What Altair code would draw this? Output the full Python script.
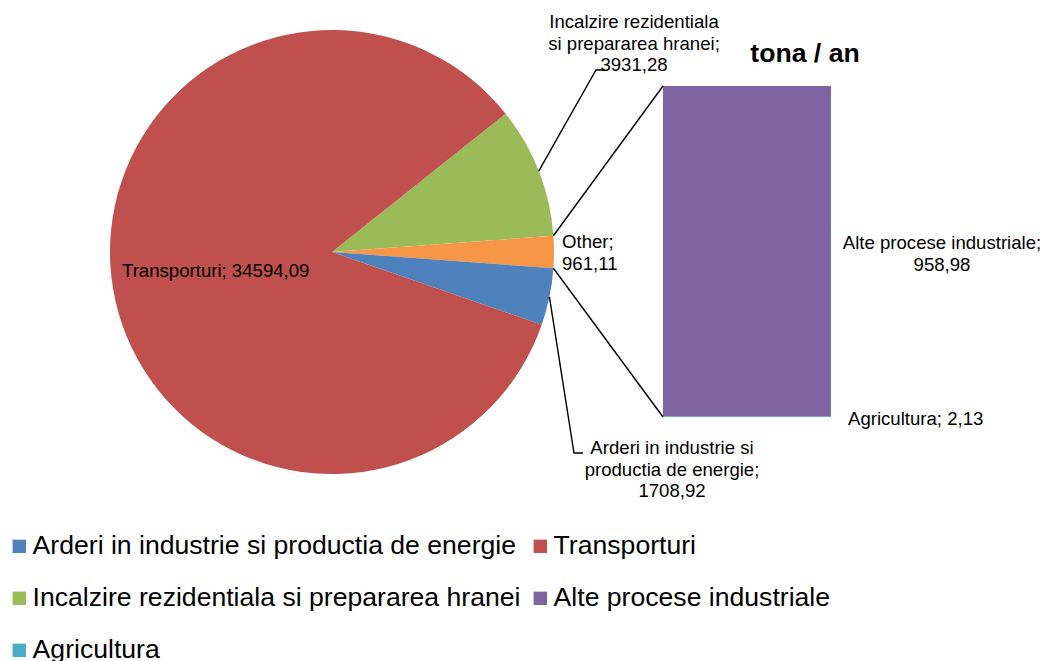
import math
import altair as alt
import pandas as pd

# ---------------- data ----------------
pie_categories = [
    "Incalzire rezidentiala si prepararea hranei",
    "Other",
    "Arderi in industrie si productia de energie",
    "Transporturi",
]
pie_values = [3931.28, 961.11, 1708.92, 34594.09]

bar_categories = ["Agricultura", "Alte procese industriale"]
bar_values = [2.13, 958.98]

legend_order = [
    "Arderi in industrie si productia de energie",
    "Transporturi",
    "Incalzire rezidentiala si prepararea hranei",
    "Alte procese industriale",
    "Agricultura",
]
color_domain = legend_order + ["Other"]
color_range = ["#4F81BD", "#C0504D", "#9BBB59", "#8064A2", "#4BACC6", "#F79646"]

title_text = "tona / an"

# ---------------- layout (chart pixel coords) ----------------
W, H = 1032, 653
CX, CY, R = 324, 244, 222
BAR_X0, BAR_X1, BAR_TOP, BAR_BOT = 655, 823, 78, 409
FONT = "Liberation Sans"
LABEL_SIZE = 18.6


def fmt(v):
    return f"{v:.2f}".replace(".", ",")


total = sum(pie_values)
other_idx = pie_categories.index("Other")
before_other = sum(pie_values[:other_idx])
start = math.pi / 2 - (before_other + pie_values[other_idx] / 2) / total * 2 * math.pi


def angle_at(cum):
    return start + cum / total * 2 * math.pi


def pie_point(theta, r=R):
    return CX + r * math.sin(theta), CY - r * math.cos(theta)


cums = [sum(pie_values[:i]) for i in range(len(pie_values))]
mid = {c: angle_at(cums[i] + pie_values[i] / 2) for i, c in enumerate(pie_categories)}

pie_df = pd.DataFrame({
    "category": pie_categories,
    "value": pie_values,
    "ord": list(range(len(pie_categories))),
})
bar_cum = [sum(bar_values[:i]) for i in range(len(bar_values))]
bar_df = pd.DataFrame({
    "category": bar_categories,
    "value": bar_values,
    "y0": bar_cum,
    "y1": [c + v for c, v in zip(bar_cum, bar_values)],
})

# leader / connector lines
other_top = pie_point(angle_at(cums[other_idx]))
other_bot = pie_point(angle_at(cums[other_idx] + pie_values[other_idx]))
g_start = pie_point(mid["Incalzire rezidentiala si prepararea hranei"])
a_start = pie_point(mid["Arderi in industrie si productia de energie"])
lines = [
    ("green", [g_start, (588, 62), (597, 62)]),
    ("blue", [a_start, (566, 445), (575, 445)]),
    ("top", [other_top, (BAR_X0, BAR_TOP)]),
    ("bot", [other_bot, (BAR_X0, BAR_BOT)]),
]
rows = []
for lid, pts in lines:
    for s, (x, y) in enumerate(pts):
        rows.append({"id": lid, "seq": s, "x": x, "y": y})
lines_df = pd.DataFrame(rows)

# labels
left_labels = pd.DataFrame([
    {"text": f"Transporturi; {fmt(pie_values[3])}", "x": 114, "y": 269},
    {"text": f"Other;\n{fmt(pie_values[1])}", "x": 554, "y": 240},
    {"text": f"Agricultura; {fmt(bar_values[0])}", "x": 840, "y": 417},
])
center_labels = pd.DataFrame([
    {"text": f"Incalzire rezidentiala\nsi prepararea hranei;\n{fmt(pie_values[0])}", "x": 626, "y": 20},
    {"text": f"Arderi in industrie si\nproductia de energie;\n{fmt(pie_values[2])}", "x": 664, "y": 446},
    {"text": f"Alte procese industriale;\n{fmt(bar_values[1])}", "x": 934, "y": 241},
])
title_df = pd.DataFrame([{"text": title_text, "x": 797, "y": 54}])

# legend entries fill column-major: arrange so rows read as in legend_order
legend_values = [legend_order[i] for i in (0, 2, 4, 1, 3)]

color_scale = alt.Scale(domain=color_domain, range=color_range)
legend = alt.Legend(
    title=None, orient="none", legendX=-2, legendY=525, columns=2,
    symbolType="square", symbolSize=180, symbolStrokeWidth=0,
    labelFont=FONT, labelFontSize=26.6, labelColor="black", labelLimit=1000,
    labelOffset=0, columnPadding=6, rowPadding=25, padding=0,
    values=legend_values,
)

pie = alt.Chart(pie_df).mark_arc(radius=R).encode(
    theta=alt.Theta("value:Q", stack=True,
                    scale=alt.Scale(range=[start, start + 2 * math.pi])),
    color=alt.Color("category:N", scale=color_scale, legend=legend),
    order=alt.Order("ord:Q"),
    x=alt.value(CX),
    y=alt.value(CY),
)

bar = alt.Chart(bar_df).mark_rect().encode(
    x=alt.value(BAR_X0),
    x2=alt.value(BAR_X1),
    y=alt.Y("y0:Q", axis=None,
            scale=alt.Scale(domain=[0, sum(bar_values)], range=[BAR_BOT, BAR_TOP], nice=False, zero=True)),
    y2="y1:Q",
    color=alt.Color("category:N", scale=color_scale, legend=legend),
)

line_layer = alt.Chart(lines_df).mark_line(color="black", strokeWidth=1.4).encode(
    x=alt.X("x:Q", scale=None, axis=None),
    y=alt.Y("y:Q", scale=None, axis=None),
    detail="id:N",
    order="seq:Q",
)

left_text = alt.Chart(left_labels).mark_text(
    align="left", baseline="alphabetic", lineBreak="\n", lineHeight=21.5,
    font=FONT, fontSize=LABEL_SIZE, color="black",
).encode(x=alt.X("x:Q", scale=None), y=alt.Y("y:Q", scale=None), text="text:N")

center_text = alt.Chart(center_labels).mark_text(
    align="center", baseline="alphabetic", lineBreak="\n", lineHeight=21.5,
    font=FONT, fontSize=LABEL_SIZE, color="black",
).encode(x=alt.X("x:Q", scale=None), y=alt.Y("y:Q", scale=None), text="text:N")

title_layer = alt.Chart(title_df).mark_text(
    align="center", baseline="alphabetic", font=FONT, fontSize=26.6,
    fontWeight="bold", color="black",
).encode(x=alt.X("x:Q", scale=None), y=alt.Y("y:Q", scale=None), text="text:N")

chart = alt.layer(
    pie, bar, line_layer, left_text, center_text, title_layer
).resolve_scale(
    x="independent", y="independent"
).properties(
    width=W, height=H, padding=0, autosize=alt.AutoSizeParams(type="none"),
).configure_view(stroke=None)

chart.save("out.html", embed_options={"renderer": "svg", "actions": False})
